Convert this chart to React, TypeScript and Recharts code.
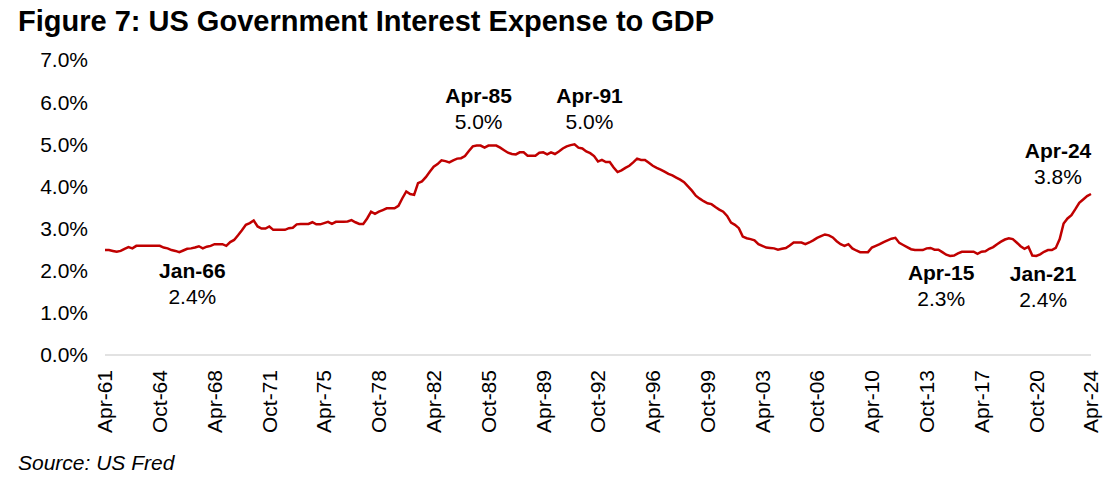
import { LineChart, Line, XAxis, YAxis, ReferenceDot } from 'recharts';

// US government interest expense as % of GDP, quarterly, Apr-61 .. Apr-24
const ratio1961to1972 = [
  2.49, 2.49, 2.47, 2.45, 2.47, 2.52, 2.56, 2.53, 2.59, 2.59,
  2.59, 2.59, 2.59, 2.59, 2.59, 2.55, 2.53, 2.49, 2.47, 2.44,
  2.48, 2.52, 2.53, 2.55, 2.58, 2.53, 2.57, 2.59, 2.63, 2.63,
  2.63, 2.59, 2.68, 2.73, 2.84, 2.96, 3.09, 3.13, 3.19, 3.05,
  3.00, 3.00, 3.05, 2.97, 2.97,
];
const ratio1972to1983 = [
  2.97, 2.97, 3.01, 3.02, 3.10, 3.11, 3.11, 3.11, 3.15, 3.10,
  3.10, 3.13, 3.16, 3.11, 3.16, 3.16, 3.16, 3.17, 3.20, 3.15,
  3.11, 3.11, 3.24, 3.40, 3.35, 3.40, 3.44, 3.48, 3.48, 3.48,
  3.54, 3.72, 3.88, 3.82, 3.80, 4.08, 4.12, 4.22, 4.35, 4.47,
  4.53, 4.62, 4.60,
];
const ratio1983to1993 = [
  4.57, 4.62, 4.66, 4.67, 4.72, 4.84, 4.95, 4.97, 4.97, 4.92,
  4.97, 4.97, 4.97, 4.92, 4.86, 4.80, 4.77, 4.76, 4.81, 4.81,
  4.73, 4.73, 4.73, 4.80, 4.81, 4.76, 4.81, 4.77, 4.83, 4.90,
  4.95, 4.98, 5.00, 4.92, 4.90, 4.83, 4.79, 4.72, 4.59, 4.63,
  4.58, 4.58,
];
const ratio1993to2004 = [
  4.45, 4.34, 4.38, 4.44, 4.49, 4.57, 4.66, 4.63, 4.63, 4.56,
  4.49, 4.44, 4.40, 4.35, 4.30, 4.26, 4.21, 4.16, 4.10, 4.00,
  3.90, 3.78, 3.71, 3.65, 3.60, 3.58, 3.51, 3.45, 3.40, 3.30,
  3.14, 3.09, 3.01, 2.81, 2.77, 2.75, 2.72, 2.63, 2.59, 2.55,
  2.54, 2.53,
];
const ratio2004to2014 = [
  2.50, 2.52, 2.54, 2.60, 2.67, 2.67, 2.67, 2.63, 2.67, 2.72,
  2.78, 2.82, 2.86, 2.84, 2.79, 2.70, 2.63, 2.59, 2.63, 2.53,
  2.48, 2.44, 2.44, 2.44, 2.55, 2.59, 2.63, 2.68, 2.72, 2.76,
  2.78, 2.66, 2.61, 2.56, 2.51, 2.49, 2.49, 2.49, 2.53, 2.54,
  2.50, 2.50,
];
const ratio2014to2024 = [
  2.44, 2.38, 2.35, 2.36, 2.41, 2.45, 2.45, 2.45, 2.45, 2.40,
  2.45, 2.46, 2.52, 2.56, 2.63, 2.69, 2.74, 2.77, 2.75, 2.67,
  2.58, 2.52, 2.57, 2.36, 2.35, 2.39, 2.45, 2.49, 2.49, 2.54,
  2.75, 3.12, 3.24, 3.32, 3.46, 3.61, 3.69, 3.77, 3.82,
];

const interestToGdp = [
  ...ratio1961to1972,
  ...ratio1972to1983,
  ...ratio1983to1993,
  ...ratio1993to2004,
  ...ratio2004to2014,
  ...ratio2014to2024,
];

const monthNames = ['Jan', 'Apr', 'Jul', 'Oct'];
// quarter labels starting at Apr-61
const quarters = interestToGdp.map((_, i) => {
  const k = i + 1;
  const yy = (61 + Math.floor(k / 4)) % 100;
  return `${monthNames[k % 4]}-${String(yy).padStart(2, '0')}`;
});

const xTicks = [
  'Apr-61', 'Oct-64', 'Apr-68', 'Oct-71', 'Apr-75', 'Oct-78', 'Apr-82',
  'Oct-85', 'Apr-89', 'Oct-92', 'Apr-96', 'Oct-99', 'Apr-03', 'Oct-06',
  'Apr-10', 'Oct-13', 'Apr-17', 'Oct-20', 'Apr-24',
];
const yTicks = [0, 1, 2, 3, 4, 5, 6, 7];

const calloutDates = ['Jan-66', 'Apr-85', 'Apr-91', 'Apr-15', 'Jan-21', 'Apr-24'];
const calloutValues = ['2.4%', '5.0%', '5.0%', '2.3%', '2.4%', '3.8%'];
// label placement relative to the point (px)
const calloutOffsets = [
  [13, 18], [-2, -50], [15, -49], [-9, 17], [3, 19], [-33, -43],
];

const data = quarters.map((q, i) => ({ q, v: interestToGdp[i] }));

const FONT = '"Liberation Sans", Arial, Helvetica, sans-serif';
const RED = '#c00000';

const QuarterTick = ({ x, y, payload }: any) => (
  <text
    x={x}
    y={y}
    transform={`rotate(-90, ${x}, ${y})`}
    textAnchor="end"
    dy="0.35em"
    fontSize={21}
    fontFamily={FONT}
    fill="#000"
  >
    {payload.value}
  </text>
);

const Callout = ({ cx, cy, idx }: any) => {
  const [dx, dy] = calloutOffsets[idx];
  const x = cx + dx;
  const y = cy + dy;
  return (
    <g>
      <text x={x} y={y} dy="0.35em" textAnchor="middle" fontSize={21} fontWeight="bold" fontFamily={FONT} fill="#000">
        {calloutDates[idx]}
      </text>
      <text x={x} y={y + 26} dy="0.35em" textAnchor="middle" fontSize={21} fontFamily={FONT} fill="#000">
        {calloutValues[idx]}
      </text>
    </g>
  );
};

export default function App() {
  return (
    <div style={{ position: 'absolute', left: 0, top: 0, width: 1120, height: 485, background: '#fff' }}>
      <svg width={1120} height={485} style={{ position: 'absolute', left: 0, top: 0 }}>
        <text x={18} y={31} fontSize={29} fontWeight="bold" fontFamily={FONT} fill="#000">
          Figure 7: US Government Interest Expense to GDP
        </text>
        <text x={18} y={470} fontSize={21} fontStyle="italic" fontFamily={FONT} fill="#000">
          Source: US Fred
        </text>
      </svg>
      <div style={{ position: 'absolute', left: 0, top: 0 }}>
        <LineChart width={1120} height={485} data={data} margin={{ top: 60, right: 29, bottom: 30, left: 0 }}>
          <XAxis
            dataKey="q"
            ticks={xTicks}
            interval={0}
            height={100}
            tickLine={false}
            tickMargin={9}
            axisLine={{ stroke: '#d9d9d9', strokeWidth: 1.5 }}
            tick={<QuarterTick />}
          />
          <YAxis
            domain={[0, 7]}
            ticks={yTicks}
            width={105}
            axisLine={false}
            tickLine={false}
            tickMargin={11}
            tickFormatter={(v: number) => `${v.toFixed(1)}%`}
            tick={{ fontSize: 21, fontFamily: FONT, fill: '#000' }}
          />
          <Line
            type="linear"
            dataKey="v"
            stroke={RED}
            strokeWidth={2.5}
            dot={false}
            isAnimationActive={false}
          />
          {calloutDates.map((d, idx) => (
            <ReferenceDot
              key={d}
              x={d}
              y={interestToGdp[quarters.indexOf(d)]}
              r={0}
              shape={(p: any) => <Callout {...p} idx={idx} />}
            />
          ))}
        </LineChart>
      </div>
    </div>
  );
}
